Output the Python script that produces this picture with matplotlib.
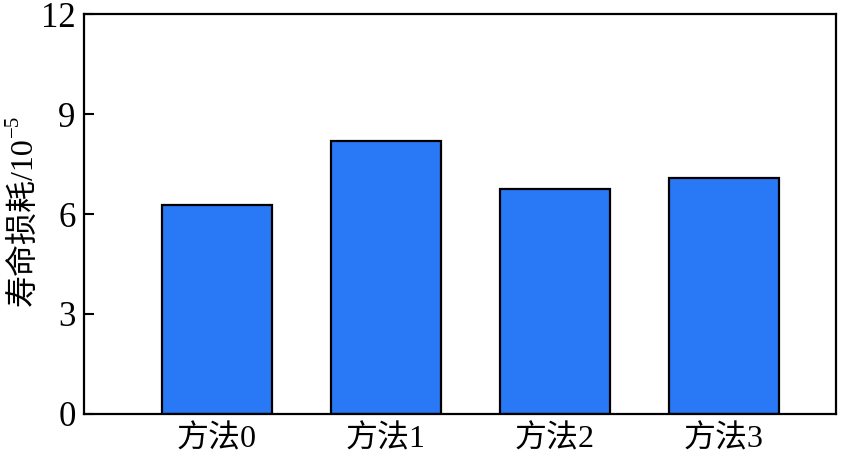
import matplotlib
matplotlib.use("Agg")
import matplotlib.pyplot as plt

categories = ["方法0", "方法1", "方法2", "方法3"]
values = [6.28, 8.20, 6.76, 7.07]
yticks = [0, 3, 6, 9, 12]

FAM = ["Liberation Serif", "Noto Sans CJK SC"]
plt.rcParams["font.family"] = FAM

fig = plt.figure(figsize=(8.41, 4.57), dpi=100)
ax = fig.add_axes([84/841, 1-414/457, (836-84)/841, (414-14)/457])

x = list(range(len(categories)))
ax.bar(x, values, width=0.65, color="#2979f7", edgecolor="black", linewidth=1.6, zorder=2)
ax.set_xlim(-0.787, 3.665)
ax.set_ylim(0, 12)
ax.set_yticks(yticks)
ax.set_yticklabels([str(t) for t in yticks], fontsize=25)
ax.set_xticks(x)
ax.set_xticklabels(categories, fontsize=23)
ax.tick_params(axis="y", direction="in", length=7, width=1.5, pad=6)
ax.tick_params(axis="x", length=0, pad=8)
for s in ax.spines.values():
    s.set_linewidth(1.6)

lab = fig.text(23/841, 1-222/457, "寿命损耗/10", rotation=90, fontsize=23,
               ha="center", va="center", family=FAM)
fig.canvas.draw()
bb = lab.get_window_extent()
fig.text((bb.x0 - 4)/841, (bb.y1 + 1)/457, "−5", rotation=90, fontsize=15,
         ha="left", va="bottom", family=FAM)

fig.savefig("out.png", dpi=100)
